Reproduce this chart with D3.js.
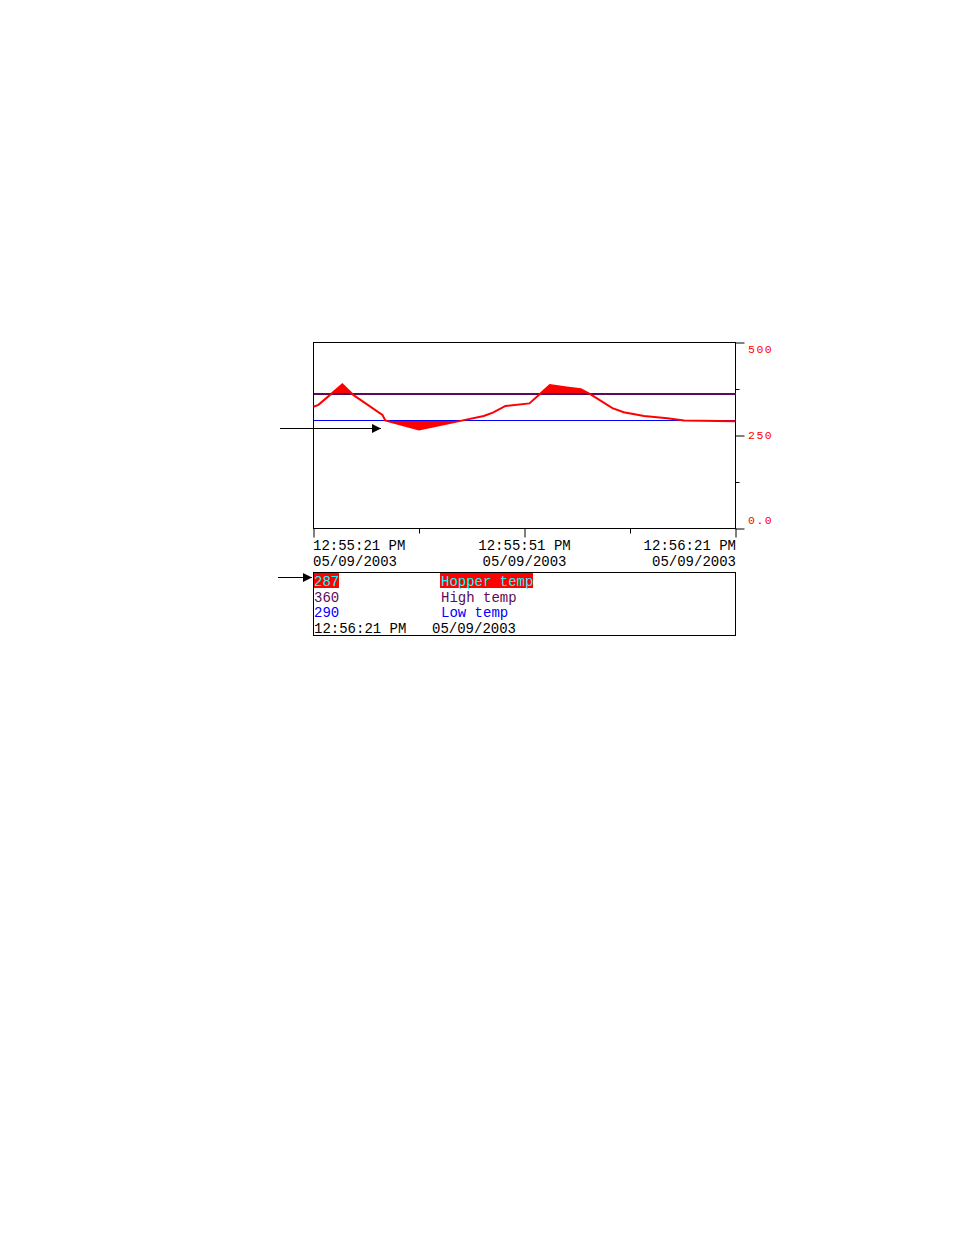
<!DOCTYPE html>
<html><head><meta charset="utf-8">
<script src="https://cdn.jsdelivr.net/npm/d3@7"></script>
<style>
html,body{margin:0;padding:0;background:#fff;}
svg{display:block;}
text{font-family:"Liberation Mono","DejaVu Sans Mono",monospace;}
</style></head>
<body>
<svg id="chart" width="954" height="1235"></svg>
<script>
// ---- data ----
const seconds = [0, 0.7, 4.1, 5.7, 9.8, 10.2, 15, 21.4, 24.2, 25.5, 27.3, 30.7, 33.6, 36, 38, 39.4, 42.5, 44.1, 47, 50.3, 52.7, 60];
const hopper  = [326, 331, 386, 357, 304, 289, 265, 290, 301, 310, 328, 335, 384, 378, 373, 359, 322, 311, 301, 295, 289, 287];
const highTemp = 360;
const lowTemp = 290;
const yTickLabels = ["500", "250", "0.0"];
const yMajor = [500, 250, 0];
const yMinor = [375, 125];
const xMajor = [0, 30, 60];
const xMinor = [15, 45];
const xTimeLabels = ["12:55:21 PM", "12:55:51 PM", "12:56:21 PM"];
const xDateLabels = ["05/09/2003", "05/09/2003", "05/09/2003"];
const legendValues = ["287", "360", "290"];
const legendNames = ["Hopper temp", "High temp", "Low temp"];
const legendStamp = ["12:56:21 PM", "05/09/2003"];

const RED = "#ff0000", PURPLE = "#5c0a5c", BLUE = "#0000ff", CYAN = "#00ffff";

const svg = d3.select("#chart");
const L = 313.5, R = 735.5, T = 342, B = 528;
const x = d3.scaleLinear().domain([0, 60]).range([L, R]);
const y = d3.scaleLinear().domain([0, 500]).range([B, T]);

const yHigh = Math.round(y(highTemp));      // 394
const yLow = Math.floor(y(lowTemp));        // 420

// defs: clip regions & arrow
const defs = svg.append("defs");
defs.append("clipPath").attr("id", "clipAbove").append("rect")
  .attr("x", L).attr("y", T).attr("width", R - L).attr("height", yHigh - T);
defs.append("clipPath").attr("id", "clipBelow").append("rect")
  .attr("x", L).attr("y", yLow).attr("width", R - L).attr("height", B - yLow);
defs.append("marker").attr("id", "arrow").attr("viewBox", "0 0 10 10")
  .attr("refX", 10).attr("refY", 5).attr("markerWidth", 9).attr("markerHeight", 9)
  .attr("markerUnits", "userSpaceOnUse").attr("orient", "auto")
  .append("path").attr("d", "M0,0 L10,5 L0,10 Z").attr("fill", "#000");

// frame
svg.append("rect").attr("x", L).attr("y", T + 0.5).attr("width", R - L).attr("height", B - T)
  .attr("fill", "none").attr("stroke", "#000").attr("stroke-width", 1);

// fills
const pts = seconds.map((s, i) => [s, hopper[i]]);
svg.append("path").datum(pts)
  .attr("clip-path", "url(#clipAbove)")
  .attr("fill", RED)
  .attr("d", d3.area().x(d => x(d[0])).y0(yHigh).y1(d => y(d[1])));
svg.append("path").datum(pts)
  .attr("clip-path", "url(#clipBelow)")
  .attr("fill", RED)
  .attr("d", d3.area().x(d => x(d[0])).y0(yLow).y1(d => y(d[1])));

// limit lines
svg.append("line").attr("x1", L).attr("x2", R).attr("y1", yHigh).attr("y2", yHigh)
  .attr("stroke", PURPLE).attr("stroke-width", 2).attr("shape-rendering", "crispEdges");
svg.append("line").attr("x1", L).attr("x2", R).attr("y1", yLow + 0.5).attr("y2", yLow + 0.5)
  .attr("stroke", BLUE).attr("stroke-width", 1).attr("shape-rendering", "crispEdges");

// hopper line
svg.append("path").datum(pts)
  .attr("fill", "none").attr("stroke", RED).attr("stroke-width", 2)
  .attr("d", d3.line().x(d => x(d[0])).y(d => y(d[1])));

// x axis ticks
const xAxisG = svg.append("g").attr("transform", `translate(0,${B + 0.5})`);
xAxisG.append("g").call(d3.axisBottom(x).tickValues(xMajor).tickSize(9).tickFormat("")).call(g => g.select(".domain").remove());
xAxisG.append("g").call(d3.axisBottom(x).tickValues(xMinor).tickSize(5).tickFormat("")).call(g => g.select(".domain").remove());
xAxisG.selectAll("line").attr("stroke", "#000");

// y axis ticks (right)
const yAxisG = svg.append("g").attr("transform", `translate(${R},0.5)`);
yAxisG.append("g").call(d3.axisRight(y).tickValues(yMajor).tickSize(9).tickFormat("")).call(g => g.select(".domain").remove());
yAxisG.append("g").call(d3.axisRight(y).tickValues(yMinor).tickSize(4).tickFormat("")).call(g => g.select(".domain").remove());
yAxisG.selectAll("line").attr("stroke", "#000");

// y labels (red, kept inside the range)
const yOffsets = [7, 0, -8];
yMajor.forEach((v, i) => {
  svg.append("text").attr("x", 748).attr("y", y(v) + yOffsets[i] + 4)
    .attr("fill", RED).attr("font-size", 11.5).attr("letter-spacing", 1.5)
    .text(yTickLabels[i]);
});

// x labels
const anchors = ["start", "middle", "end"];
const xShift = [-0.5, 0, 0.5];
xMajor.forEach((v, i) => {
  svg.append("text").attr("x", x(v) + xShift[i]).attr("y", 550).attr("text-anchor", anchors[i])
    .attr("font-size", 14).attr("fill", "#000").text(xTimeLabels[i]);
  svg.append("text").attr("x", x(v) + xShift[i]).attr("y", 565.5).attr("text-anchor", anchors[i])
    .attr("font-size", 14).attr("fill", "#000").text(xDateLabels[i]);
});

// legend box
svg.append("rect").attr("x", L).attr("y", 572.5).attr("width", R - L).attr("height", 63)
  .attr("fill", "none").attr("stroke", "#000");
const rowY = [586, 601.5, 617];
const rowColors = [CYAN, PURPLE, BLUE];
// highlighted first row backgrounds
svg.append("rect").attr("x", 314).attr("y", 573).attr("width", 25).attr("height", 15).attr("fill", RED);
svg.append("rect").attr("x", 440).attr("y", 573).attr("width", 93).attr("height", 15).attr("fill", RED);
legendValues.forEach((v, i) => {
  svg.append("text").attr("x", 314).attr("y", rowY[i]).attr("font-size", 14)
    .attr("fill", rowColors[i]).text(v);
  svg.append("text").attr("x", 441).attr("y", rowY[i]).attr("font-size", 14)
    .attr("fill", rowColors[i]).text(legendNames[i]);
});
svg.append("text").attr("x", 314).attr("y", 632.5).attr("font-size", 14).attr("fill", "#000").text(legendStamp[0]);
svg.append("text").attr("x", 432).attr("y", 632.5).attr("font-size", 14).attr("fill", "#000").text(legendStamp[1]);

// annotation arrows
svg.append("line").attr("x1", 280).attr("y1", 428.5).attr("x2", 381).attr("y2", 428.5)
  .attr("stroke", "#000").attr("marker-end", "url(#arrow)");
svg.append("line").attr("x1", 278).attr("y1", 577.5).attr("x2", 312).attr("y2", 577.5)
  .attr("stroke", "#000").attr("marker-end", "url(#arrow)");
</script>
</body></html>
